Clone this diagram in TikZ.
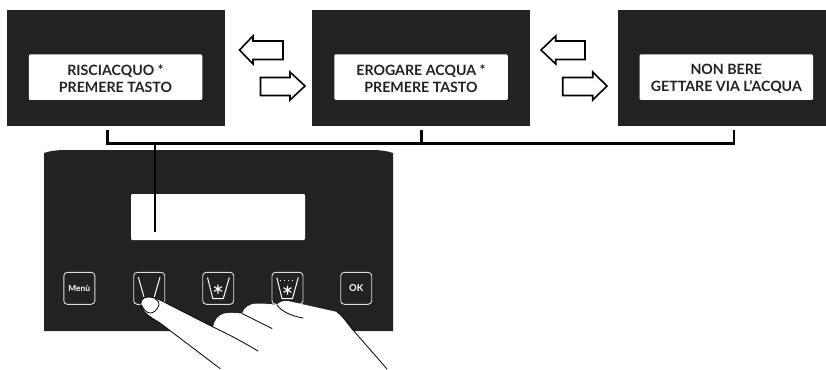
\documentclass[tikz,border=0pt]{standalone}
\usepackage{fontspec}
\setmainfont{Lato}
\definecolor{panelc}{HTML}{222220}
\definecolor{btnc}{HTML}{DDDDDA}
\tikzset{
  screen/.style={fill=panelc,draw=none,minimum height=116,inner sep=0,anchor=north west},
  lcd/.style={fill=white,draw=none,rounded corners=1.2,minimum width=173.5,minimum height=45.5,inner sep=0},
  lcdtext/.style={inner sep=0,align=center,yshift=-1.5pt,font=\fontsize{14.2}{18.7}\selectfont\bfseries,text=panelc},
  btn/.style={draw=btnc,line width=0.9,rounded corners=3.5,minimum width=31,minimum height=32,inner sep=0,text=white},
  icon/.style={draw=white,line width=1,line join=round},
  star/.style={draw=white,line width=1.1},
  blockarrow/.style={draw=black,fill=white,line width=1.6,line join=miter},
  link/.style={draw=black,line width=2.1},
  handline/.style={draw=black,line width=0.8,line cap=round}
}
\begin{document}
\begin{tikzpicture}[x=1pt,y=-1pt]
\useasboundingbox (0,0) rectangle (826,369);
% screens
\node[screen,minimum width=218] (s1) at (7,10) {};
\node[screen,minimum width=218] (s2) at (312,10) {};
\node[screen,minimum width=208] (s3) at (618,10) {};
\node[lcd] (w1) at (115.5,77.2) {};
\node[lcd] (w2) at (421,77.2) {};
\node[lcd] (w3) at (726.3,77.2) {};
\node[lcdtext] (t1) at (w1) {RISCIACQUO *\\[-2pt]PREMERE TASTO};
\node[lcdtext] (t2) at (w2) {EROGARE ACQUA *\\[-2pt]PREMERE TASTO};
\node[lcdtext] (t3) at (w3) {NON BERE\\[-2pt]GETTARE VIA L’ACQUA};
% block arrows
\draw[blockarrow] (283,41) -- (253,41) -- (253,36) -- (239.5,50) -- (253,64) -- (253,59.5) -- (283,59.5) -- cycle;
\draw[blockarrow] (260.5,77.5) -- (290,77.5) -- (290,72) -- (305,86) -- (290,100) -- (290,95.5) -- (260.5,95.5) -- cycle;
\draw[blockarrow] (585,41) -- (555.7,41) -- (555.7,36) -- (541,50) -- (555.7,64) -- (555.7,59.5) -- (585,59.5) -- cycle;
\draw[blockarrow] (562.7,77.5) -- (592.7,77.5) -- (592.7,72) -- (607,86) -- (592.7,100) -- (592.7,95.5) -- (562.7,95.5) -- cycle;
% control panel
\fill[panelc] (44,331) -- (44,153) .. controls (50,150.8) and (58,150) .. (66,150) -- (371,150) .. controls (379,150) and (387,150.8) .. (393,153) -- (393,331) -- cycle;
\node[fill=white,rounded corners=1.2,minimum width=174,minimum height=46,inner sep=0] (disp) at (218,217) {};
% bracket
\coordinate (b1) at (107.5,129.5);
\coordinate (b2) at (421.5,129.5);
\coordinate (b3) at (734,129.5);
\coordinate (c1) at (107.5,143.5);
\coordinate (c2) at (421.5,143.5);
\coordinate (c3) at (734,143.5);
\coordinate (c4) at (155,143.5);
\coordinate (d) at (155,232);
\draw[link,line join=miter] (b1) -- (c1) -- (c3) -- (b3);
\draw[link] (b2) -- (c2);
\draw[link] (c4) -- (d);
% buttons
\node[btn,font=\fontsize{8.4}{10}\selectfont\bfseries] (menu) at (79.3,288.3) {Menù};
\node[btn] (k1) at (149.2,288.3) {};
\node[btn] (k2) at (218.2,288.3) {};
\node[btn] (k3) at (287.5,288.3) {};
\node[btn,font=\fontsize{9.5}{10}\selectfont\bfseries] (ok) at (356.2,288.3) {OK};
% icons
\draw[icon] (138.3,277) -- (144,297);
\draw[icon] (160,277) -- (154.3,297);
\draw[icon] (207.5,277.5) -- (212.8,298.5) -- (223.3,298.5) -- (229.3,277.5);
\draw[star] (218,284.5) -- (218,293.5) (214.1,286.7) -- (221.9,291.3) (214.1,291.3) -- (221.9,286.7);
\draw[icon] (276.8,277.5) -- (282,298.5) -- (292.5,298.5) -- (298.3,277.5);
\draw[white,line width=0.8,dash pattern=on 0.8 off 3.2] (280,280) -- (296,280);
\draw[star] (287.5,285.5) -- (287.5,294.5) (283.6,287.7) -- (291.4,292.3) (283.6,292.3) -- (291.4,287.7);
% hand
\path[fill=white] (220,369) -- (160,323) .. controls (150,317) and (144,313) .. (142,308)
  .. controls (139,302) and (142,297) .. (148,297)
  .. controls (153,297) and (158,299) .. (162,301) -- (213,327)
  .. controls (214,321) and (218,315) .. (224,313.5) .. controls (230,312.5) and (236,313) .. (242,313.5)
  .. controls (244,308) and (248,304) .. (257,303.5) .. controls (264,303.5) and (272,304) .. (277,305)
  .. controls (279,302) and (283,300.5) .. (288,301) -- (337,312) .. controls (342,315) and (347,323) .. (353,330)
  -- (387,369) -- cycle;
\draw[handline] (220,368.5) -- (160,323) .. controls (150,317) and (144,313) .. (142,308)
  .. controls (139,302) and (142,297) .. (148,297)
  .. controls (153,297) and (158,299) .. (162,301) -- (213,327);
\draw[handline] (213,327) .. controls (228,334) and (243,342) .. (258,351);
\draw[handline] (242,313.5) -- (272,328.5);
\draw[handline] (277,305) .. controls (281,311) and (291,316) .. (303,318);
\draw[handline] (337,312) .. controls (342,315) and (347,323) .. (353,330) -- (387,369);
\draw[handline] (142,306) .. controls (144,310) and (147,313) .. (150,313)
  .. controls (154,313) and (157,310) .. (159,305) .. controls (159.5,302) and (158,300) .. (155,299);
\end{tikzpicture}
\end{document}
